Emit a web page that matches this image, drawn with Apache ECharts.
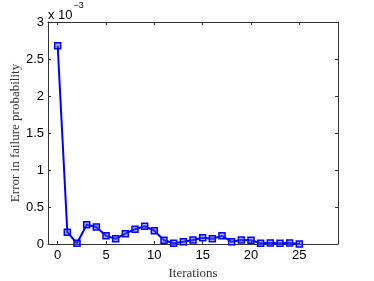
<!DOCTYPE html>
<html>
<head>
<meta charset="utf-8">
<script src="https://cdn.jsdelivr.net/npm/echarts@6/dist/echarts.min.js"></script>
<style>html,body{margin:0;padding:0;background:#fff}#c{width:374px;height:281px}</style>
</head>
<body>
<div id="c"></div>
<script>
// Data (error values in units of 1e-3)
const iterations = [0,1,2,3,4,5,6,7,8,9,10,11,12,13,14,15,16,17,18,19,20,21,22,23,24,25];
const errorValues = [2.68,0.16,0.01,0.26,0.23,0.11,0.07,0.14,0.20,0.24,0.18,0.05,0.01,0.03,0.055,0.085,0.07,0.11,0.03,0.055,0.05,0.01,0.015,0.01,0.015,0.0];
const xTicks = [0,5,10,15,20,25];
const yTicks = [0,0.5,1,1.5,2,2.5,3];
const xLabel = 'Iterations';
const yLabel = 'Error in failure probability';

const chart = echarts.init(document.getElementById('c'));
const axisColor = '#333';
const sansFont = 'Liberation Sans, Arial, sans-serif';
const serifFont = 'Liberation Serif, Times New Roman, serif';
const grid = {left:48, right:36, top:22, bottom:37, containLabel:false, outerBoundsMode:'none'};
chart.setOption({
  animation:false,
  grid: grid,
  graphic: [{
    type:'text', left:48, top:1,
    style:{
      text:'{a|x 10}{b|−3}',
      rich:{
        a:{fontFamily:sansFont, fontSize:13, fill:'#000', padding:[8,0,0,0]},
        b:{fontFamily:sansFont, fontSize:9, fill:'#000', verticalAlign:'top', padding:[0,0,0,1]}
      }
    }
  }],
  xAxis: [{
    type:'value', min:-1, max:29,
    name: xLabel, nameLocation:'middle', nameGap:23, nameMoveOverlap:false,
    nameTextStyle:{fontFamily:serifFont, fontSize:13, color:'#333'},
    axisLine:{show:true, onZero:false, lineStyle:{color:axisColor, width:1}},
    axisTick:{show:true, inside:true, length:3, customValues:xTicks, lineStyle:{color:axisColor}},
    axisLabel:{customValues:xTicks, fontFamily:sansFont, fontSize:13, color:'#000', margin:5},
    splitLine:{show:false}
  },{
    type:'value', min:-1, max:29, position:'top',
    axisLine:{show:true, onZero:false, lineStyle:{color:axisColor, width:1}},
    axisTick:{show:true, inside:true, length:3, customValues:xTicks, lineStyle:{color:axisColor}},
    axisLabel:{show:false},
    splitLine:{show:false}
  }],
  yAxis: [{
    type:'value', min:0, max:3, interval:0.5,
    name: yLabel, nameLocation:'middle', nameGap:26, nameMoveOverlap:false,
    nameTextStyle:{fontFamily:serifFont, fontSize:13, color:'#333'},
    axisLine:{show:true, onZero:false, lineStyle:{color:axisColor, width:1}},
    axisTick:{show:true, inside:true, length:3, lineStyle:{color:axisColor}},
    axisLabel:{fontFamily:sansFont, fontSize:13, color:'#000', margin:4,
      formatter: v => String(v)},
    splitLine:{show:false}
  },{
    type:'value', min:0, max:3, interval:0.5, position:'right',
    axisLine:{show:true, onZero:false, lineStyle:{color:axisColor, width:1}},
    axisTick:{show:true, inside:true, length:3, lineStyle:{color:axisColor}},
    axisLabel:{show:false},
    splitLine:{show:false}
  }],
  series: [{
    type:'line',
    data: iterations.map((x,i)=>[x, errorValues[i]]),
    symbol:'rect', symbolSize:6, showAllSymbol:true,
    lineStyle:{color:'#0000ff', width:2},
    itemStyle:{color:'rgba(80,80,255,0.5)', borderColor:'#0000ff', borderWidth:1.5},
    clip:false
  }]
});
</script>
</body>
</html>
